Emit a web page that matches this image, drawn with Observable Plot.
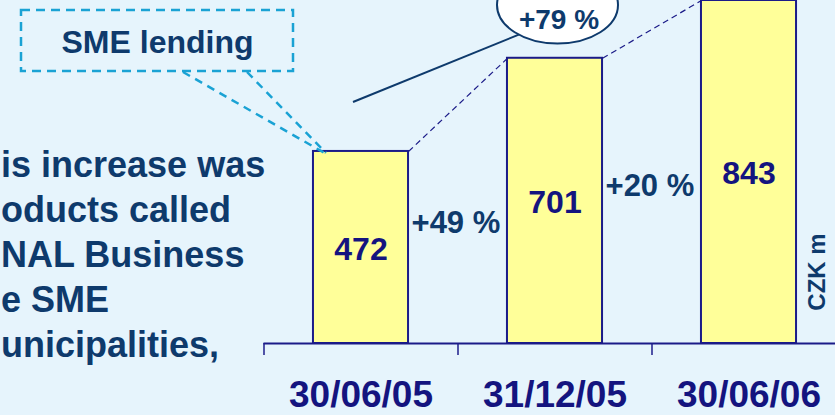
<!DOCTYPE html>
<html>
<head>
<meta charset="utf-8">
<script src="https://cdn.jsdelivr.net/npm/d3@7"></script>
<script src="https://cdn.jsdelivr.net/npm/@observablehq/plot@0.6"></script>
<style>
  html, body { margin: 0; padding: 0; background: #e6f4fc; overflow: hidden; }
  #chart { width: 835px; height: 415px; overflow: hidden; }
</style>
</head>
<body>
<div id="chart"></div>
<script>
// ---- data ----
const categories = ["30/06/05", "31/12/05", "30/06/06"];
const values = [472, 701, 843];
const stepGrowth = ["+49 %", "+20 %"];
const totalGrowth = ["+79 %"];
const unitLabel = "CZK m";
const calloutLabel = "SME lending";
const bodyLines = ["is increase was", "oducts called", "NAL Business", "e SME", "unicipalities,"];

// ---- styling ----
const FONT = "Liberation Sans, Arial, Helvetica, sans-serif";
const NAVY = "#14147f";
const BAR_STROKE = "#1b1b88";
const DARK = "#0e3a6c";
const CYAN = "#1aa2d4";
const HALF = 0.245; // half bar width in category units

const bars = categories.map((c, i) => ({c, i, v: values[i]}));
const links = d3.pairs(bars).map(([a, b]) => ({a, b}));

const plot = Plot.plot({
  width: 835,
  height: 415,
  marginTop: 0,
  marginBottom: 72,
  marginLeft: 0,
  marginRight: 0,
  style: {background: "transparent", color: BAR_STROKE, fontFamily: FONT, overflow: "visible"},
  x: {type: "linear", domain: [-0.5, 2.5], range: [263.5, 845.5], ticks: [-0.5, 0.5, 1.5],
      tickSize: 12, tickFormat: () => "", label: null},
  y: {domain: [0, 843], axis: null},
  marks: [
    Plot.rect(bars, {x1: d => d.i - HALF, x2: d => d.i + HALF, y1: 0, y2: "v",
      fill: "#ffff99", stroke: BAR_STROKE, strokeWidth: 2}),
    Plot.ruleY([0], {x1: -0.5, x2: 2.5, stroke: BAR_STROKE, strokeWidth: 2}),
    Plot.link(links, {x1: d => d.a.i + HALF, y1: d => d.a.v, x2: d => d.b.i - HALF, y2: d => d.b.v,
      stroke: BAR_STROKE, strokeWidth: 1.2, strokeDasharray: "6,4"}),
    Plot.text(bars, {x: "i", y: d => d.v / 2, dy: 2, text: d => String(d.v),
      fontSize: 32, fontWeight: "bold", fontFamily: FONT, fill: NAVY}),
    Plot.text(bars, {x: "i", y: 0, dy: 52, text: "c",
      fontSize: 37, fontWeight: "bold", fontFamily: FONT, fill: NAVY}),
    Plot.text(stepGrowth, {x: (d, i) => i + HALF, y: (d, i) => [295, 386][i], dx: 3,
      textAnchor: "start", text: d => d,
      fontSize: 31, fontWeight: "bold", fontFamily: FONT, fill: DARK}),
    Plot.text(totalGrowth, {x: 1, y: 794, dx: 4, text: d => d,
      fontSize: 28, fontWeight: "bold", fontFamily: FONT, fill: DARK})
  ]
});

document.getElementById("chart").appendChild(plot);

const svg = d3.select(plot);
// axis tick styling
svg.selectAll('[aria-label^="x-axis"] line, [aria-label^="x-axis"] path')
  .attr("stroke-width", 1.6).attr("stroke", "#2a2a92");
svg.selectAll('[aria-label^="x-axis"] .domain').remove();

// scales for decorations
const sx = plot.scale("x"), sy = plot.scale("y");
const X = d3.scaleLinear(sx.domain, sx.range);
const Y = d3.scaleLinear(sy.domain, sy.range);

const deco = svg.append("g");

// callout box "SME lending"
deco.append("rect").attr("x", 21).attr("y", 10).attr("width", 272).attr("height", 61)
  .attr("fill", "none").attr("stroke", CYAN).attr("stroke-width", 2.5).attr("stroke-dasharray", "9 6");
deco.append("text").attr("x", 157.5).attr("y", 53).attr("text-anchor", "middle")
  .attr("font-family", FONT).attr("font-weight", "bold").attr("font-size", 32).attr("fill", DARK)
  .text(calloutLabel);
const barLeft = X(0 - HALF), barTop = Y(values[0]);
[[183, 72, barLeft + 15, barTop + 4], [247, 72, barLeft + 13, barTop + 2]].forEach(([x1, y1, x2, y2]) => {
  deco.append("line").attr("x1", x1).attr("y1", y1).attr("x2", x2).attr("y2", y2)
    .attr("stroke", CYAN).attr("stroke-width", 2.5).attr("stroke-dasharray", "8 6");
});

// pointer line + ellipse for total growth
const ex = X(1) + 3, ey = 5;
deco.append("line").attr("x1", 353).attr("y1", 102).attr("x2", ex - 15).attr("y2", ey + 20)
  .attr("stroke", DARK).attr("stroke-width", 2);
deco.append("ellipse").attr("cx", ex).attr("cy", ey).attr("rx", 60.5).attr("ry", 38.5)
  .attr("fill", "white").attr("stroke", DARK).attr("stroke-width", 2);

// bring the total growth label above the ellipse
svg.selectAll("text").filter(function() { return this.textContent === totalGrowth[0]; })
  .each(function() { plot.appendChild(this.parentNode); });

// left body text
bodyLines.forEach((t, i) => {
  svg.append("text").attr("x", 1).attr("y", 177 + i * 45).attr("text-anchor", "start")
    .attr("font-family", FONT).attr("font-weight", "bold").attr("font-size", 36).attr("fill", DARK)
    .text(t);
});

// unit label
svg.append("text").attr("transform", "translate(825,272) rotate(-90)")
  .attr("text-anchor", "middle")
  .attr("font-family", FONT).attr("font-weight", "bold").attr("font-size", 24).attr("fill", DARK)
  .text(unitLabel);
</script>
</body>
</html>
